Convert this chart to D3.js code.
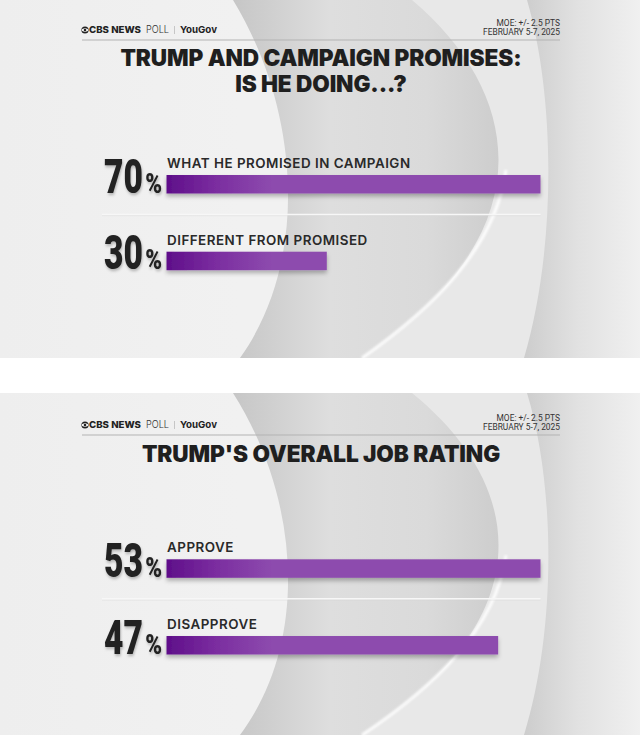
<!DOCTYPE html>
<html>
<head>
<meta charset="utf-8">
<script src="https://cdn.jsdelivr.net/npm/d3@7"></script>
<style>
  body { margin: 0; background: #fff; }
  svg { display: block; }
</style>
</head>
<body>
<div id="chart"></div>
<script>
// Poll data
var promiseTitle = ["TRUMP AND CAMPAIGN PROMISES:", "IS HE DOING...?"];
var promiseLabels = ["WHAT HE PROMISED IN CAMPAIGN", "DIFFERENT FROM PROMISED"];
var promiseValues = [70, 30];

var ratingTitle = ["TRUMP'S OVERALL JOB RATING"];
var ratingLabels = ["APPROVE", "DISAPPROVE"];
var ratingValues = [53, 47];

var moeLines = ["MOE: +/- 2.5 PTS", "FEBRUARY 5-7, 2025"];

var svg = d3.select("#chart")
    .append("svg")
    .attr("width", 640)
    .attr("height", 735);

var defs = svg.append("defs");

// bar gradient - dark purple on the left, flat after ~100px
var barGrad = defs.append("linearGradient")
    .attr("id", "barGrad")
    .attr("gradientUnits", "userSpaceOnUse")
    .attr("x1", 166).attr("x2", 272).attr("y1", 0).attr("y2", 0);
barGrad.append("stop").attr("offset", 0).attr("stop-color", "#5e0e89");
barGrad.append("stop").attr("offset", 0.45).attr("stop-color", "#7a2c9f");
barGrad.append("stop").attr("offset", 1).attr("stop-color", "#8d4bae");

// background gradients
var leftGrad = defs.append("linearGradient")
    .attr("id", "leftGrad")
    .attr("gradientUnits", "userSpaceOnUse")
    .attr("x1", 0).attr("x2", 240).attr("y1", 0).attr("y2", 0);
leftGrad.append("stop").attr("offset", 0).attr("stop-color", "#eeeeee");
leftGrad.append("stop").attr("offset", 1).attr("stop-color", "#f1f1f1");

var cresGrad = defs.append("linearGradient")
    .attr("id", "cresGrad")
    .attr("gradientUnits", "userSpaceOnUse")
    .attr("x1", 233).attr("x2", 510).attr("y1", 0).attr("y2", 0);
cresGrad.append("stop").attr("offset", 0).attr("stop-color", "#c6c6c6");
cresGrad.append("stop").attr("offset", 0.35).attr("stop-color", "#dedede");
cresGrad.append("stop").attr("offset", 0.7).attr("stop-color", "#dadada");
cresGrad.append("stop").attr("offset", 1).attr("stop-color", "#cbcbcb");

var rightGrad = defs.append("linearGradient")
    .attr("id", "rightGrad")
    .attr("gradientUnits", "userSpaceOnUse")
    .attr("x1", 525).attr("x2", 640).attr("y1", 0).attr("y2", 0);
rightGrad.append("stop").attr("offset", 0).attr("stop-color", "#cdcdcd");
rightGrad.append("stop").attr("offset", 0.45).attr("stop-color", "#e1e1e1");
rightGrad.append("stop").attr("offset", 1).attr("stop-color", "#f0f0f0");

// shadows
var barShadow = defs.append("filter").attr("id", "barShadow")
    .attr("x", "-5%").attr("y", "-40%").attr("width", "110%").attr("height", "200%");
barShadow.append("feDropShadow")
    .attr("dx", 0).attr("dy", 3).attr("stdDeviation", 2)
    .attr("flood-color", "#000").attr("flood-opacity", 0.28);

var numShadow = defs.append("filter").attr("id", "numShadow")
    .attr("x", "-20%").attr("y", "-20%").attr("width", "150%").attr("height", "150%");
numShadow.append("feDropShadow")
    .attr("dx", 1).attr("dy", 2).attr("stdDeviation", 1.5)
    .attr("flood-color", "#000").attr("flood-opacity", 0.25);

var softBlur = defs.append("filter").attr("id", "softBlur");
softBlur.append("feGaussianBlur").attr("stdDeviation", 1.2);

// Panels
drawPanel({
    id: "p1", top: 0, height: 358, headerY: 0,
    title: promiseTitle, titleY: 65.5, titleGap: 26,
    labels: promiseLabels, values: promiseValues, barTop: 175
});
drawPanel({
    id: "p2", top: 393, height: 342, headerY: 395,
    title: ratingTitle, titleY: 462, titleGap: 26,
    labels: ratingLabels, values: ratingValues, barTop: 559.3
});

function drawBackground(g, id, h) {
    var k = h / 358;

    defs.append("clipPath").attr("id", "clip-" + id)
        .append("rect").attr("width", 640).attr("height", h);

    var bg = g.append("g").attr("clip-path", "url(#clip-" + id + ")");

    bg.append("rect").attr("width", 640).attr("height", h).attr("fill", "#e8e8e8");
    bg.append("rect").attr("width", 300).attr("height", h).attr("fill", "url(#leftGrad)");

    // big grey swoosh
    var cres = d3.path();
    cres.moveTo(233, 0);
    cres.bezierCurveTo(300, 110 * k, 310, 260 * k, 240, 358 * k);
    cres.lineTo(362, 358 * k);
    cres.bezierCurveTo(540, 240 * k, 530, 100 * k, 412, 0);
    cres.closePath();
    bg.append("path").attr("d", cres.toString()).attr("fill", "url(#cresGrad)");

    // white highlight on the lower edge of the swoosh
    var hl = d3.path();
    hl.moveTo(506, 170 * k);
    hl.bezierCurveTo(495, 250 * k, 430, 310 * k, 362, 358 * k);
    bg.append("path").attr("d", hl.toString())
        .attr("fill", "none").attr("stroke", "#ffffff")
        .attr("stroke-width", 3).attr("opacity", 0.9)
        .attr("filter", "url(#softBlur)");

    // right side band
    var rb = d3.path();
    rb.moveTo(527, 0);
    rb.bezierCurveTo(556, 100 * k, 556, 250 * k, 524, 358 * k);
    rb.lineTo(640, 358 * k);
    rb.lineTo(640, 0);
    rb.closePath();
    bg.append("path").attr("d", rb.toString()).attr("fill", "url(#rightGrad)");
}

function drawPanel(o) {
    var panel = svg.append("g").attr("transform", "translate(0," + o.top + ")");
    drawBackground(panel, o.id, o.height);

    var g = svg.append("g");
    var hy = o.headerY;

    // CBS eye logo
    var logo = g.append("g").attr("transform", "translate(85," + (hy + 30) + ")");
    logo.append("circle").attr("r", 3.6).attr("fill", "#222");
    logo.append("ellipse").attr("rx", 3.1).attr("ry", 1.7).attr("fill", "#fff");
    logo.append("circle").attr("r", 1.3).attr("fill", "#222");

    g.append("text").attr("x", 89).attr("y", hy + 33.3)
        .attr("font-family", "Inter, sans-serif").attr("font-weight", 800)
        .attr("font-size", 9.6).attr("fill", "#222")
        .attr("textLength", 52).attr("lengthAdjust", "spacingAndGlyphs")
        .text("CBS NEWS");
    g.append("text").attr("x", 146).attr("y", hy + 33.3)
        .attr("font-family", "Inter, sans-serif").attr("font-weight", 300)
        .attr("font-size", 10).attr("fill", "#333")
        .attr("textLength", 23).attr("lengthAdjust", "spacingAndGlyphs")
        .text("POLL");
    g.append("line").attr("x1", 174.5).attr("x2", 174.5)
        .attr("y1", hy + 26).attr("y2", hy + 34)
        .attr("stroke", "#bbb").attr("stroke-width", 0.8);
    g.append("text").attr("x", 180).attr("y", hy + 33.3)
        .attr("font-family", "Inter, sans-serif").attr("font-weight", 700)
        .attr("font-size", 9.6).attr("fill", "#222")
        .attr("textLength", 37).attr("lengthAdjust", "spacingAndGlyphs")
        .text("YouGov");

    // MOE / dates
    g.selectAll(".moe")
        .data(moeLines)
        .enter().append("text")
        .attr("class", "moe")
        .attr("x", 560)
        .attr("y", function(d, i) { return hy + 26 + i * 8.5; })
        .attr("text-anchor", "end")
        .attr("font-family", "Roboto, sans-serif")
        .attr("font-size", 8.4)
        .attr("fill", "#333")
        .text(function(d) { return d; });

    g.append("line").attr("x1", 82).attr("x2", 560)
        .attr("y1", hy + 40).attr("y2", hy + 40)
        .attr("stroke", "#b3b3b3").attr("stroke-width", 1);

    // Title
    g.selectAll(".title")
        .data(o.title)
        .enter().append("text")
        .attr("class", "title")
        .attr("x", 321)
        .attr("y", function(d, i) { return o.titleY + i * o.titleGap; })
        .attr("text-anchor", "middle")
        .attr("font-family", "Inter, sans-serif")
        .attr("font-weight", 900)
        .attr("font-size", 22.6)
        .attr("letter-spacing", -0.1)
        .attr("fill", "#1f1f1f")
        .text(function(d) { return d; });

    // Scales
    var x = d3.scaleLinear()
        .domain([0, d3.max(o.values)])
        .range([166.5, 540.5]);

    var y = d3.scaleBand()
        .domain(o.labels)
        .range([o.barTop, o.barTop + 95.2])
        .paddingInner(0.759)
        .paddingOuter(0);

    var rows = o.labels.map(function(l, i) { return { label: l, value: o.values[i] }; });

    // separator between rows
    var sepY = y(o.labels[0]) + y.bandwidth() + 21;
    g.append("line").attr("x1", 102).attr("x2", 540.5)
        .attr("y1", sepY + 1.2).attr("y2", sepY + 1.2)
        .attr("stroke", "#d0d0d0").attr("stroke-width", 0.8).attr("opacity", 0.6);
    g.append("line").attr("x1", 102).attr("x2", 540.5)
        .attr("y1", sepY).attr("y2", sepY)
        .attr("stroke", "#f7f7f7").attr("stroke-width", 1.5);

    var row = g.selectAll(".row")
        .data(rows)
        .enter().append("g")
        .attr("class", "row");

    row.append("rect")
        .attr("x", x(0))
        .attr("y", function(d) { return y(d.label); })
        .attr("width", function(d) { return x(d.value) - x(0); })
        .attr("height", y.bandwidth())
        .attr("fill", "url(#barGrad)")
        .attr("filter", "url(#barShadow)");

    row.append("text")
        .attr("x", 167)
        .attr("y", function(d) { return y(d.label) - 7; })
        .attr("font-family", "Inter, sans-serif")
        .attr("font-weight", 600)
        .attr("font-size", 13.4)
        .attr("letter-spacing", 0.5)
        .attr("fill", "#2a2a2a")
        .text(function(d) { return d.label; });

    // big condensed numbers
    row.append("text")
        .attr("transform", function(d) {
            return "translate(143," + (y(d.label) + y.bandwidth() - 0.8) + ") scale(0.7,1)";
        })
        .attr("text-anchor", "end")
        .attr("font-family", "Roboto, sans-serif")
        .attr("font-weight", 900)
        .attr("font-size", 48)
        .attr("fill", "#222")
        .attr("filter", "url(#numShadow)")
        .text(function(d) { return d.value; });

    row.append("text")
        .attr("transform", function(d) {
            return "translate(162," + (y(d.label) + y.bandwidth() - 0.8) + ") scale(0.84,1)";
        })
        .attr("text-anchor", "end")
        .attr("font-family", "Roboto, sans-serif")
        .attr("font-weight", 900)
        .attr("font-size", 27)
        .attr("fill", "#222")
        .attr("filter", "url(#numShadow)")
        .text("%");
}
</script>
</body>
</html>
